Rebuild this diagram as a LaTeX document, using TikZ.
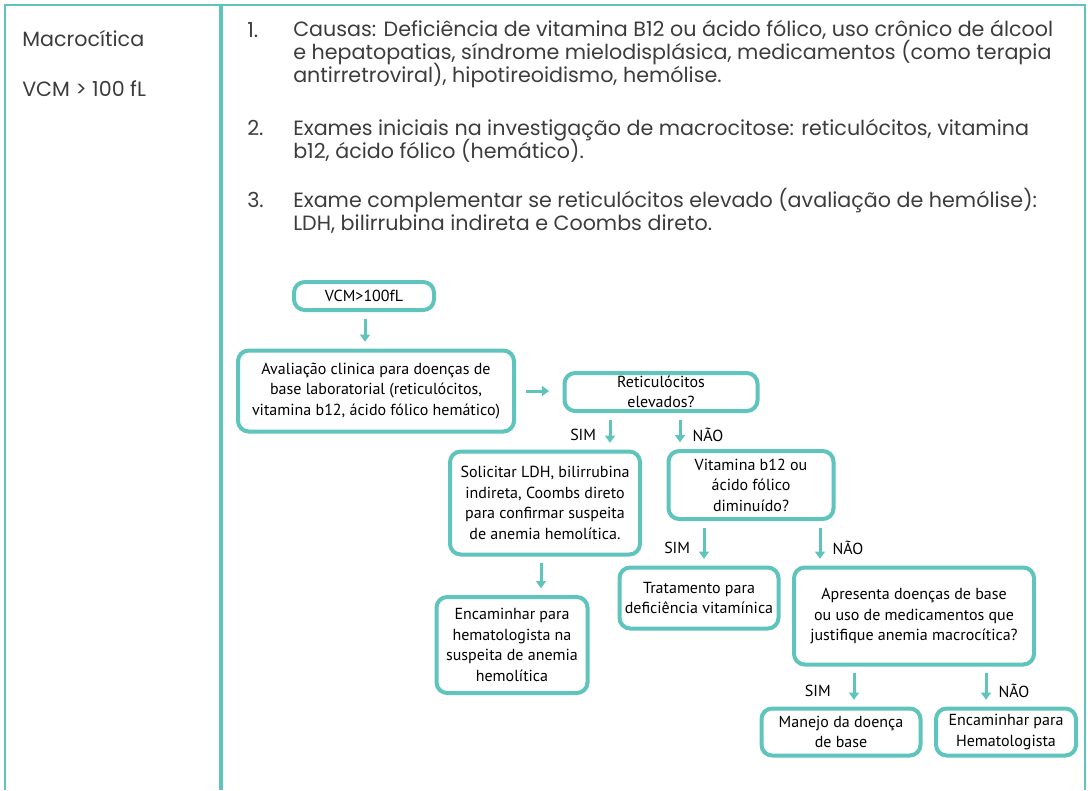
\documentclass[tikz,border=0pt]{standalone}
\usepackage{fontspec}
\setmainfont{Poppins}
\newfontfamily\flowfont{PT Sans}
\usetikzlibrary{arrows.meta, positioning, calc}
\definecolor{tealline}{RGB}{94,196,188}
\definecolor{bodytext}{RGB}{60,60,62}
\tikzset{
  flowbox/.style={draw=tealline, line width=3pt, rounded corners=8pt, align=center,
    font=\flowfont\fontsize{12}{15.4}\selectfont, text=black, inner sep=2pt},
  flowarrow/.style={draw=tealline, line width=2.25pt, -{Triangle[width=7.5pt,length=5.5pt]},
    shorten <=5pt, shorten >=5pt},
  answer/.style={font=\flowfont\fontsize{12}{13}\selectfont, text=black},
  listtext/.style={anchor=base west, align=left, inner sep=0pt,
    font={\fontsize{15.5}{16.9}\selectfont\lineskiplimit=-20pt}, text=bodytext},
}

\begin{document}
\begin{tikzpicture}[x=0.75pt,y=-0.75pt]
\useasboundingbox (0,0) rectangle (1090,790);

% Draw table lines
\draw[tealline, line width=2pt] (5,790) -- (5,5) -- (1085,5) -- (1085,790);
\draw[tealline, line width=3pt] (221,5) -- (221,790);

% Left column
\node[listtext] (kind) at (22,46) {Macrocítica};
\node[listtext] (limit) at (22,96) {VCM > 100 fL};

% Numbered list (text nodes sit on their last line)
\node[listtext] (n1) at (247,37) {1.};
\node[listtext] (item1) at (293,82) {Causas: Deficiência de vitamina B12 ou ácido fólico, uso crônico de álcool\\
  e hepatopatias, síndrome mielodisplásica, medicamentos (como terapia\\
  antirretroviral), hipotireoidismo, hemólise.};
\node[listtext] (n2) at (247,135) {2.};
\node[listtext] (item2) at (293,158) {Exames iniciais na investigação de macrocitose: reticulócitos, vitamina\\
  b12, ácido fólico (hemático).};
\node[listtext] (n3) at (247,207) {3.};
\node[listtext] (item3) at (293,230) {Exame complementar se reticulócitos elevado (avaliação de hemólise):\\
  LDH, bilirrubina indireta e Coombs direto.};

% Draw flowchart boxes
\node[flowbox, minimum width=105pt, minimum height=21pt] (vcm) at (364,296) {VCM>100fL};
\node[flowbox, minimum width=207pt, minimum height=60.75pt] (aval) at (376,391)
  {Avaliação clinica para doenças de\\base laboratorial (reticulócitos,\\vitamina b12, ácido fólico hemático)};
\node[flowbox, minimum width=144.75pt, minimum height=28.5pt] (reti) at (661,392)
  {Reticulócitos\\elevados?};
\node[flowbox, minimum width=142.5pt, minimum height=77.25pt] (sol) at (545,503)
  {Solicitar LDH, bilirrubina\\indireta, Coombs direto\\para confirmar suspeita\\de anemia hemolítica.};
\node[flowbox, minimum width=123.75pt, minimum height=51pt] (vit) at (751,485)
  {Vitamina b12 ou\\ácido fólico\\diminuído?};
\node[flowbox, minimum width=113.25pt, minimum height=72pt] (hemo) at (512,645)
  {Encaminhar para\\hematologista na\\suspeita de anemia\\hemolítica};
\node[flowbox, minimum width=119.25pt, minimum height=45.75pt] (trat) at (699,598)
  {Tratamento para\\deficiência vitamínica};
\node[flowbox, minimum width=180pt, minimum height=72.75pt] (apr) at (914,616)
  {Apresenta doenças de base\\ou uso de medicamentos que\\justifique anemia macrocítica?};
\node[flowbox, minimum width=119.25pt, minimum height=35.25pt] (manejo) at (841,732)
  {Manejo da doença\\de base};
\node[flowbox, minimum width=105pt, minimum height=35.25pt] (hemat) at (1006,732)
  {Encaminhar para\\Hematologista};

% Arrow anchors
\coordinate (a1) at ($(vcm.south)+(1,0)$);
\coordinate (a2) at ($(reti.south)+(-51,0)$);
\coordinate (a3) at ($(reti.south)+(19,0)$);
\coordinate (a4) at ($(sol.south)+(-4,0)$);
\coordinate (a5) at ($(vit.south)+(-47,0)$);
\coordinate (a6) at ($(vit.south)+(69,0)$);
\coordinate (a7) at ($(apr.south)+(-60,0)$);
\coordinate (a8) at ($(apr.south)+(72,0)$);

% Draw arrows
\draw[flowarrow] (a1) -- (a1 |- aval.north);
\draw[flowarrow, shorten <=7.5pt, shorten >=10pt] (aval.east) -- (aval.east -| reti.west);
\draw[flowarrow] (a2) -- (a2 |- sol.north) node[answer, pos=0.6, left=6pt] {SIM};
\draw[flowarrow] (a3) -- (a3 |- vit.north) node[answer, pos=0.6, right=5pt] {NÃO};
\draw[flowarrow] (a4) -- (a4 |- hemo.north);
\draw[flowarrow] (a5) -- (a5 |- trat.north) node[answer, pos=0.6, left=6pt] {SIM};
\draw[flowarrow] (a6) -- (a6 |- apr.north) node[answer, pos=0.6, right=5pt] {NÃO};
\draw[flowarrow] (a7) -- (a7 |- manejo.north) node[answer, pos=0.6, left=13pt] {SIM};
\draw[flowarrow] (a8) -- (a8 |- hemat.north) node[answer, pos=0.6, right=5pt] {NÃO};

\end{tikzpicture}
\end{document}
